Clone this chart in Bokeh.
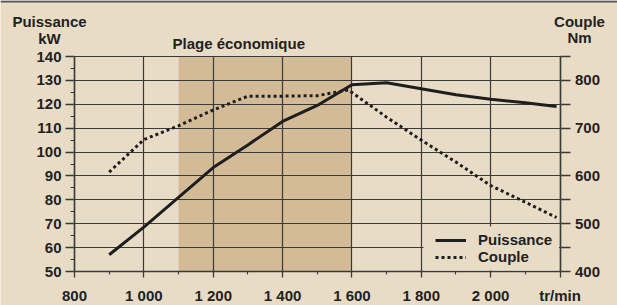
from bokeh.plotting import figure
from bokeh.models import (Range1d, LinearAxis, FixedTicker, BoxAnnotation, Label,
                          Legend, LegendItem, Grid)
from bokeh.embed import file_html
from bokeh.resources import INLINE

# ---- data ----
rpm_p = [900, 1000, 1100, 1200, 1300, 1400, 1500, 1600, 1700, 1800, 1900, 2000, 2100, 2190]
puissance_kw = [57, 68.6, 81, 93.5, 103, 112.8, 119.5, 128.2, 129, 126.5, 124, 122.1, 120.6, 119.1]

rpm_c = [900, 1000, 1100, 1200, 1300, 1400, 1500, 1590, 1700, 1800, 1900, 2000, 2100, 2190]
couple_nm = [608, 676, 705, 738, 767, 767, 768, 780, 723, 675, 629, 580, 545, 513]

plage_eco = [1100, 1600]

rpm_ticks = [800, 1000, 1200, 1400, 1600, 1800, 2000, 2200]
rpm_minor = [900, 1100, 1300, 1500, 1700, 1900, 2100]
kw_ticks = [50, 60, 70, 80, 90, 100, 110, 120, 130, 140]
kw_minor = [55, 65, 75, 85, 95, 105, 115, 125, 135]
nm_ticks = [400, 450, 500, 550, 600, 650, 700, 750, 800, 850]
nm_labelled = [400, 500, 600, 700, 800]

# ---- style / layout ----
BG = "#e8dcc6"
BAND = "#d3bb97"
GRID = "#3a3a3a"
LINE = "#1e1e1e"
TEXT = "#222222"
FONT = "Liberation Sans"
FS = "15px"

W, H = 617, 305
X0, X1 = 74.0, 559.5      # pixel columns of the axis ends
YT, YB = 56.0, 271.0      # pixel rows of the axis ends

rx0, rx1 = rpm_ticks[0], rpm_ticks[-1]
ky0, ky1 = kw_ticks[0], kw_ticks[-1]
ny0, ny1 = nm_ticks[0], nm_ticks[-1]
sx = (X1 - X0) / (rx1 - rx0)
sy = (YB - YT) / (ky1 - ky0)
x_range = Range1d(rx0 - X0 / sx, rx1 + (W - X1) / sx)
y_lo = ky0 - (H - YB) / sy
y_hi = ky1 + YT / sy
y_range = Range1d(y_lo, y_hi)
k = (ny1 - ny0) / (ky1 - ky0)
nm_range = Range1d(ny0 + (y_lo - ky0) * k, ny0 + (y_hi - ky0) * k)

p = figure(width=W, height=H, x_range=x_range, y_range=y_range,
           output_backend="svg", toolbar_location=None,
           min_border_left=0, min_border_right=0, min_border_top=0, min_border_bottom=0)
p.background_fill_color = BG
p.border_fill_color = BG
p.outline_line_color = None
p.extra_y_ranges = {"nm": nm_range}

# top rule
p.add_layout(BoxAnnotation(bottom=y_hi - 2 / sy, top=y_hi, fill_color="#555555",
                           fill_alpha=1, line_alpha=0))

# band
p.add_layout(BoxAnnotation(left=plage_eco[0], right=plage_eco[1], bottom=ky0, top=ky1,
                           level="image", fill_color=BAND, fill_alpha=1, line_alpha=0))

def style_axis(ax):
    ax.axis_line_color = GRID
    ax.axis_line_width = 1.5
    ax.major_tick_line_color = GRID
    ax.minor_tick_line_color = GRID
    ax.major_tick_line_width = 1.3
    ax.minor_tick_line_width = 1.1
    ax.major_tick_in = 0
    ax.minor_tick_in = 0
    ax.major_label_text_font = FONT
    ax.major_label_text_font_size = FS
    ax.major_label_text_font_style = "bold"
    ax.major_label_text_color = TEXT

# bottom axis
xa = p.xaxis[0]
xa.ticker = FixedTicker(ticks=rpm_ticks, minor_ticks=rpm_minor)
over = {t: f"{t:,}".replace(",", " ") for t in rpm_ticks}
over[rpm_ticks[-1]] = "tr/min"
xa.major_label_overrides = over
xa.fixed_location = ky0
xa.bounds = (rx0, rx1)
style_axis(xa)
xa.major_tick_out = 6
xa.minor_tick_out = 3
xa.major_label_standoff = 9

# left axis
ya = p.yaxis[0]
ya.ticker = FixedTicker(ticks=kw_ticks, minor_ticks=kw_minor)
ya.fixed_location = rx0
ya.bounds = (ky0, ky1)
style_axis(ya)
ya.major_tick_out = 9
ya.minor_tick_out = 4
ya.major_label_standoff = 4

# right axis
ra = LinearAxis(y_range_name="nm", ticker=FixedTicker(ticks=nm_ticks, minor_ticks=[]),
                fixed_location=rx1, bounds=(ny0, ny1))
ra.major_label_overrides = {t: "" for t in nm_ticks if t not in nm_labelled}
style_axis(ra)
ra.major_tick_out = 10
ra.major_label_standoff = 5
p.add_layout(ra, "right")

# grids
p.xgrid.ticker = FixedTicker(ticks=rpm_ticks)
p.ygrid.ticker = FixedTicker(ticks=kw_ticks)
has_cross = "cross_bounds" in Grid.properties()
for g, cb in ((p.xgrid[0], (ky0, ky1)), (p.ygrid[0], (rx0, rx1))):
    g.grid_line_color = GRID
    g.grid_line_width = 1.2
    if has_cross:
        g.cross_bounds = cb
    else:
        g.visible = False
if not has_cross:
    p.segment(x0=rpm_ticks, y0=[ky0] * len(rpm_ticks), x1=rpm_ticks, y1=[ky1] * len(rpm_ticks),
              line_color=GRID, line_width=1.2, level="underlay")
    p.segment(x0=[rx0] * len(kw_ticks), y0=kw_ticks, x1=[rx1] * len(kw_ticks), y1=kw_ticks,
              line_color=GRID, line_width=1.2, level="underlay")

# lines
r1 = p.line(rpm_p, puissance_kw, line_color=LINE, line_width=3)
r2 = p.line(rpm_c, couple_nm, y_range_name="nm", line_color=LINE, line_width=3,
            line_dash="3 3")

# plain background behind the legend (hides grid lines there)
p.add_layout(BoxAnnotation(left=423, right=X1 - 1, top=H - 226, bottom=H - (YB - 1),
                           left_units="screen", right_units="screen",
                           top_units="screen", bottom_units="screen",
                           fill_color=BG, fill_alpha=1, line_alpha=0))

legend = Legend(items=[LegendItem(label="Puissance", renderers=[r1]),
                       LegendItem(label="Couple", renderers=[r2])],
                location=(435, 40), margin=0, padding=0, spacing=0,
                glyph_width=31, glyph_height=12, label_height=12, label_standoff=12,
                background_fill_color=BG, background_fill_alpha=1,
                border_line_color=None,
                label_text_font=FONT, label_text_font_size=FS,
                label_text_font_style="bold", label_text_color=TEXT)
p.add_layout(legend)

def lab(text, x, y, align="center"):
    p.add_layout(Label(x=x, y=H - y, x_units="screen", y_units="screen", text=text,
                       text_align=align, text_baseline="middle",
                       text_font=FONT, text_font_size=FS, text_font_style="bold",
                       text_color=TEXT))

lab("Puissance", 49, 21)
lab("kW", 49, 37.5)
lab("Couple", 579, 21)
lab("Nm", 579, 37)
lab("Plage économique", 172, 42.5, align="left")

open("out.html", "w").write(file_html(p, INLINE))
